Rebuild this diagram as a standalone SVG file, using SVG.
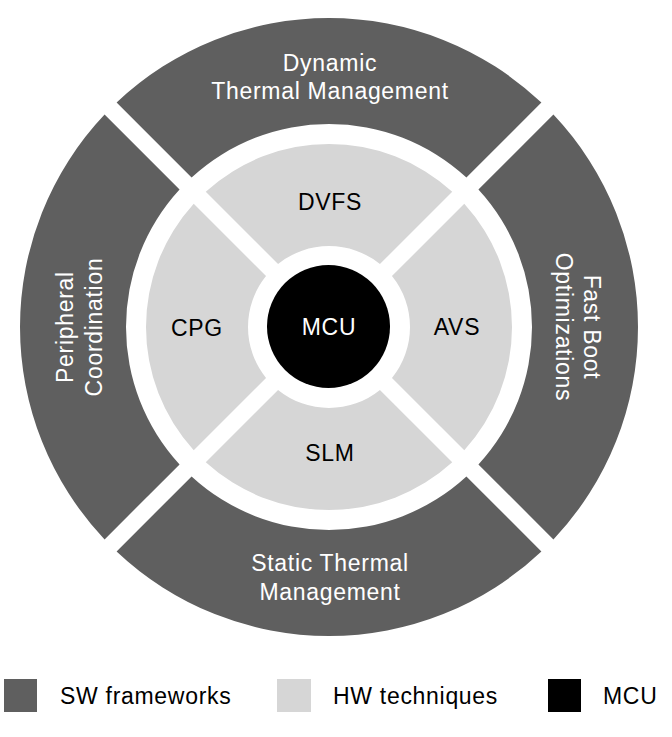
<svg xmlns="http://www.w3.org/2000/svg" width="672" height="737" viewBox="0 0 672 737">
<style>
.sw{fill:#5f5f5f}
.hw{fill:#d6d6d6}
.mcu{fill:#000}
text{font-family:"Liberation Sans",Arial,Helvetica,sans-serif;font-size:23px;letter-spacing:0.7px;text-anchor:middle}
.wt{fill:#fff}
.bt{fill:#000}
.lg{text-anchor:start}
</style>
<defs>
<path id="swSeg" d="M 116.60 102.58 A 309 309 0 0 1 541.40 102.58 L 466.41 177.57 A 203 203 0 0 0 191.59 177.57 Z"/>
<path id="hwSeg" d="M 205.75 191.73 A 183 183 0 0 1 452.25 191.73 L 379.95 264.03 A 81 81 0 0 0 278.05 264.03 Z"/>
</defs>
<rect width="672" height="737" fill="#fff"/>
<g id="connectors"></g>
<g id="sw-dtm">
<use href="#swSeg" class="sw"/>
<text class="wt" x="330" y="71">Dynamic</text>
<text class="wt" x="330" y="99">Thermal Management</text>
</g>
<g id="sw-fastboot">
<use href="#swSeg" class="sw" transform="rotate(90 329 327)"/>
<g transform="translate(584 327) rotate(90)">
<text class="wt" x="0" y="0">Fast Boot</text>
<text class="wt" x="0" y="28">Optimizations</text>
</g>
</g>
<g id="sw-stm">
<use href="#swSeg" class="sw" transform="rotate(180 329 327)"/>
<text class="wt" x="330" y="571">Static Thermal</text>
<text class="wt" x="330" y="600">Management</text>
</g>
<g id="sw-peripheral">
<use href="#swSeg" class="sw" transform="rotate(270 329 327)"/>
<g transform="translate(72.5 327) rotate(-90)">
<text class="wt" x="0" y="0">Peripheral</text>
<text class="wt" x="0" y="29">Coordination</text>
</g>
</g>
<g id="hw-dvfs">
<use href="#hwSeg" class="hw"/>
<text class="bt" x="330" y="210">DVFS</text>
</g>
<g id="hw-avs">
<use href="#hwSeg" class="hw" transform="rotate(90 329 327)"/>
<text class="bt" x="457" y="335">AVS</text>
</g>
<g id="hw-slm">
<use href="#hwSeg" class="hw" transform="rotate(180 329 327)"/>
<text class="bt" x="330" y="461">SLM</text>
</g>
<g id="hw-cpg">
<use href="#hwSeg" class="hw" transform="rotate(270 329 327)"/>
<text class="bt" x="197" y="336">CPG</text>
</g>
<g id="mcu">
<circle class="mcu" cx="328.5" cy="326.5" r="61.5"/>
<text class="wt" x="329" y="335">MCU</text>
</g>
<g id="legend">
<rect class="sw" x="4" y="679" width="33" height="33"/>
<text class="bt lg" x="60" y="704">SW frameworks</text>
<rect class="hw" x="277" y="679" width="34" height="33"/>
<text class="bt lg" x="333" y="704">HW techniques</text>
<rect class="mcu" x="548" y="679" width="33" height="33"/>
<text class="bt lg" x="603" y="704">MCU</text>
</g>
</svg>
